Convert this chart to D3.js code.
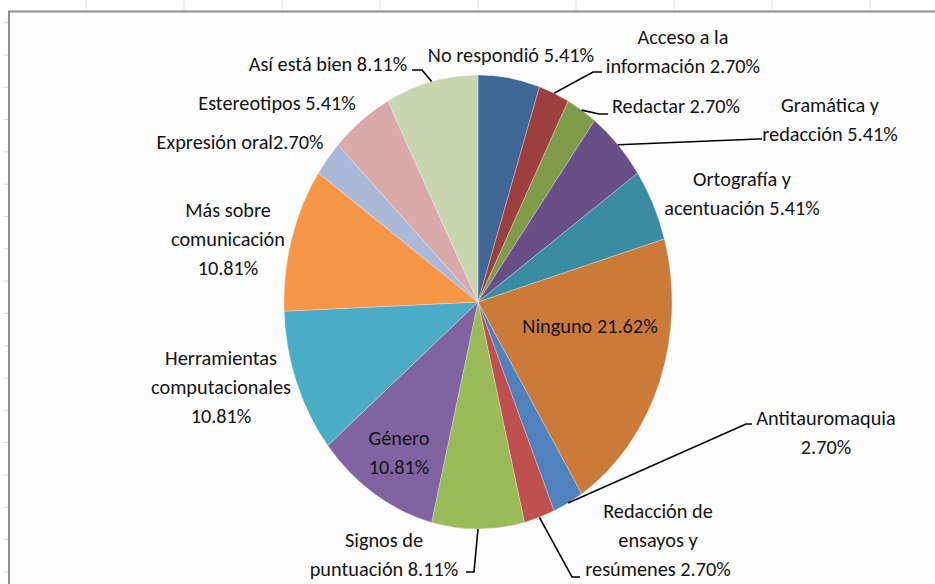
<!DOCTYPE html>
<html>
<head>
<meta charset="utf-8">
<script src="https://cdn.jsdelivr.net/npm/d3@7"></script>
<style>
  html, body { margin: 0; padding: 0; background: #fff; }
  svg { display: block; }
  .label { font-family: Carlito, Lato, "Open Sans", sans-serif; font-size: 20.3px; fill: #141414; }
</style>
</head>
<body>
<svg id="chart"></svg>
<script>
// Slices, clockwise from 12 o'clock
const categories = [
  'No respondió', 'Acceso a la información', 'Redactar', 'Gramática y redacción',
  'Ortografía y acentuación', 'Ninguno', 'Antitauromaquia', 'Redacción de ensayos y resúmenes',
  'Signos de puntuación', 'Género', 'Herramientas computacionales', 'Más sobre comunicación',
  'Expresión oral', 'Estereotipos', 'Así está bien'
];
const values = [5.41, 2.70, 2.70, 5.41, 5.41, 21.62, 2.70, 2.70, 8.11, 10.81, 10.81, 10.81, 2.70, 5.41, 8.11];

// Label text, split into lines as on the original
const labelLines = [
  ['No respondió 5.41%'],
  ['Acceso a la', 'información 2.70%'],
  ['Redactar 2.70%'],
  ['Gramática y', 'redacción 5.41%'],
  ['Ortografía y', 'acentuación 5.41%'],
  ['Ninguno 21.62%'],
  ['Antitauromaquia', '2.70%'],
  ['Redacción de', 'ensayos y', 'resúmenes 2.70%'],
  ['Signos de', 'puntuación 8.11%'],
  ['Género', '10.81%'],
  ['Herramientas', 'computacionales', '10.81%'],
  ['Más sobre', 'comunicación', '10.81%'],
  ['Expresión oral2.70%'],
  ['Estereotipos 5.41%'],
  ['Así está bien 8.11%']
];

const colors = [
  '#406897', '#9e413e', '#7f9a48', '#684f88', '#3a8ca2', '#cb7a38', '#4f81bd', '#c0504d',
  '#9bbb59', '#8064a2', '#4bacc6', '#f79646', '#abb9d8', '#d9aaa9', '#c7d6ac'
];

// where each label sits (centre x, first baseline) and its leader bend, if any
const labelLayout = [
  { x: 511, y: 62 },
  { x: 683, y: 44, elbow: [593, 72], end: [602, 72] },
  { x: 676, y: 113, elbow: [599, 114], end: [608, 114] },
  { x: 830, y: 112, elbow: [758, 139], end: [762, 139] },
  { x: 742, y: 186 },
  { x: 590, y: 333 },
  { x: 826, y: 425, elbow: [746, 424], end: [752, 424] },
  { x: 658, y: 518, elbow: [572, 577], end: [580, 577] },
  { x: 384, y: 547, elbow: [474, 572], end: [466, 572] },
  { x: 399, y: 445 },
  { x: 221, y: 365 },
  { x: 228, y: 217 },
  { x: 240, y: 149 },
  { x: 277, y: 110 },
  { x: 328, y: 71, elbow: [422, 70], end: [412, 70] }
];

const width = 935;
const height = 584;
const cx = 478, cy = 302;
const rx = 194, ry = 227; // the pie is stretched vertically
const lineHeight = 29;

const svg = d3.select('#chart')
  .attr('width', width)
  .attr('height', height);

// spreadsheet cell marks showing around the chart frame
const topTicks = d3.range(86, width, 98);
svg.selectAll('line.ttick')
  .data(topTicks)
  .join('line')
  .attr('x1', d => d).attr('x2', d => d)
  .attr('y1', 0).attr('y2', 10)
  .attr('stroke', '#dde0ec').attr('stroke-width', 1);

const leftTicks = d3.range(22.7, height, 32.3);
svg.selectAll('line.ltick')
  .data(leftTicks)
  .join('line')
  .attr('x1', 4).attr('x2', 8)
  .attr('y1', d => d).attr('y2', d => d)
  .attr('stroke', '#d6dae8').attr('stroke-width', 1);

// chart frame
svg.append('rect')
  .attr('x', 9).attr('y', 11.5)
  .attr('width', width + 20).attr('height', height + 20)
  .attr('fill', '#fdfdfd')
  .attr('stroke', '#8c8c8c')
  .attr('stroke-width', 2);

const pie = d3.pie().sort(null).value(d => d)(values);

const arc = d3.arc().innerRadius(0).outerRadius(rx);

svg.append('g')
  .attr('transform', `translate(${cx},${cy}) scale(1,${ry / rx})`)
  .selectAll('path')
  .data(pie)
  .join('path')
  .attr('d', arc)
  .attr('fill', (d, i) => colors[i])
  .attr('stroke', '#fff')
  .attr('stroke-opacity', 0.5)
  .attr('stroke-width', 0.5);

// point on the pie edge at a slice's middle angle
const edgePoint = d => {
  const a = (d.startAngle + d.endAngle) / 2;
  return [cx + rx * Math.sin(a), cy - ry * Math.cos(a)];
};

// leader lines
const leaders = pie.map((d, i) => ({ d, l: labelLayout[i] })).filter(o => o.l.elbow);
svg.selectAll('path.leader')
  .data(leaders)
  .join('path')
  .attr('class', 'leader')
  .attr('d', o => d3.line()([edgePoint(o.d), o.l.elbow, o.l.end]))
  .attr('fill', 'none')
  .attr('stroke', '#000')
  .attr('stroke-width', 1.6);

// labels
const labels = svg.selectAll('text.label')
  .data(labelLines)
  .join('text')
  .attr('class', 'label')
  .attr('text-anchor', 'middle');

labels.selectAll('tspan')
  .data((lines, i) => lines.map((t, k) => ({ t, k, i })))
  .join('tspan')
  .attr('x', d => labelLayout[d.i].x)
  .attr('y', d => labelLayout[d.i].y + d.k * lineHeight)
  .text(d => d.t);
</script>
</body>
</html>
